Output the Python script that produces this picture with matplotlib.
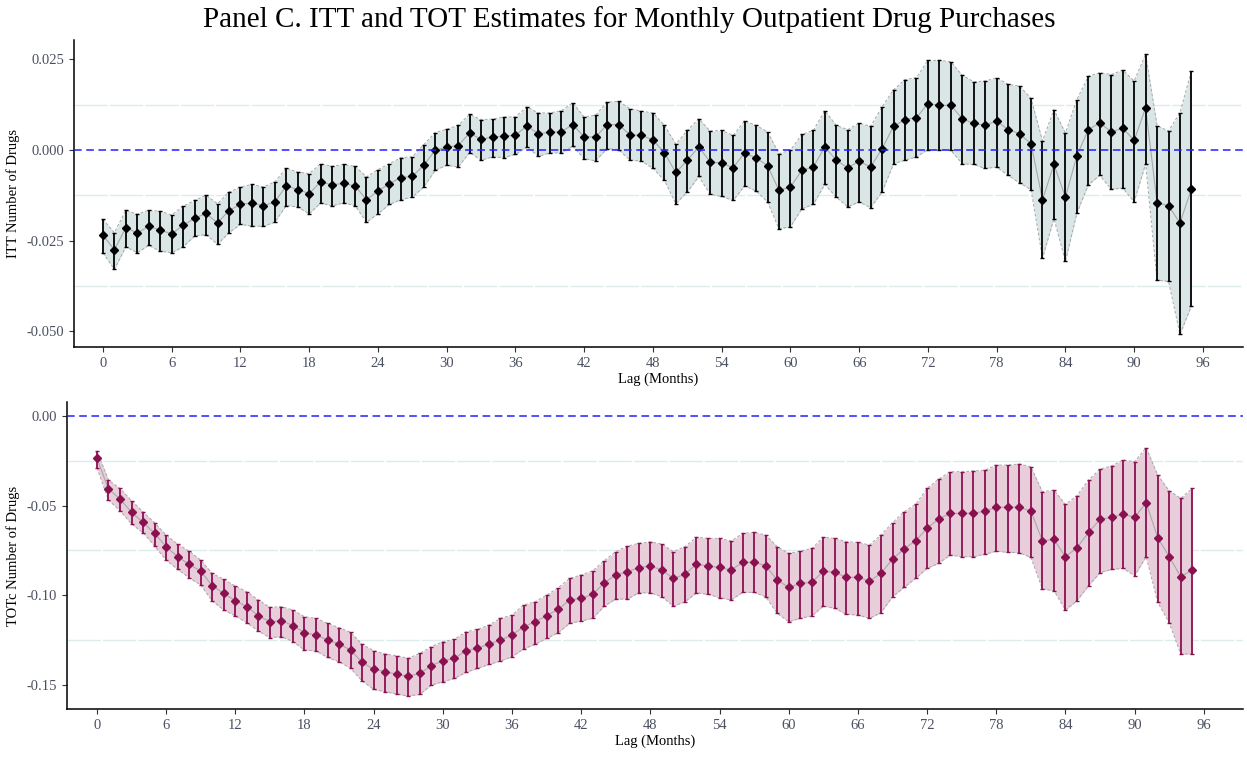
import matplotlib.pyplot as plt
import numpy as np

plt.rcParams["font.family"] = ["Liberation Serif", "DejaVu Serif"]
plt.rcParams["axes.unicode_minus"] = False

months = np.arange(96)

itt_est = [-0.0235, -0.0275, -0.0214, -0.0229, -0.0210, -0.0221, -0.0231, -0.0208, -0.0188, -0.0175,
           -0.0201, -0.0167, -0.0150, -0.0146, -0.0154, -0.0143, -0.0099, -0.0109, -0.0120, -0.0088,
           -0.0096, -0.0092, -0.0099, -0.0137, -0.0113, -0.0093, -0.0076, -0.0073, -0.0042, -0.0001,
           0.0008, 0.0012, 0.0047, 0.0029, 0.0036, 0.0038, 0.0041, 0.0066, 0.0045, 0.0049,
           0.0050, 0.0070, 0.0036, 0.0036, 0.0070, 0.0070, 0.0042, 0.0040, 0.0028, -0.0008,
           -0.0062, -0.0028, 0.0008, -0.0033, -0.0036, -0.0049, -0.0008, -0.0022, -0.0043, -0.0111,
           -0.0102, -0.0056, -0.0047, 0.0008, -0.0028, -0.0049, -0.0031, -0.0047, 0.0004, 0.0065,
           0.0084, 0.0089, 0.0128, 0.0123, 0.0123, 0.0086, 0.0073, 0.0068, 0.0080, 0.0056,
           0.0045, 0.0017, -0.0137, -0.0040, -0.0130, -0.0016, 0.0056, 0.0075, 0.0050, 0.0060,
           0.0027, 0.0116, -0.0145, -0.0154, -0.0201, -0.0107]

itt_hi = [-0.0191, -0.0228, -0.0166, -0.0177, -0.0166, -0.0169, -0.0179, -0.0155, -0.0139, -0.0125,
          -0.0148, -0.0116, -0.0102, -0.0095, -0.0102, -0.0088, -0.0050, -0.0061, -0.0065, -0.0038,
          -0.0045, -0.0040, -0.0045, -0.0074, -0.0054, -0.0038, -0.0021, -0.0019, 0.0015, 0.0048,
          0.0057, 0.0068, 0.0098, 0.0084, 0.0085, 0.0091, 0.0091, 0.0119, 0.0102, 0.0102,
          0.0108, 0.0130, 0.0091, 0.0096, 0.0132, 0.0134, 0.0114, 0.0107, 0.0102, 0.0068,
          0.0016, 0.0054, 0.0086, 0.0052, 0.0054, 0.0040, 0.0080, 0.0068, 0.0050, -0.0010,
          -0.0001, 0.0043, 0.0054, 0.0108, 0.0068, 0.0056, 0.0074, 0.0065, 0.0119, 0.0166,
          0.0194, 0.0199, 0.0247, 0.0247, 0.0243, 0.0206, 0.0188, 0.0190, 0.0199, 0.0181,
          0.0176, 0.0142, 0.0025, 0.0111, 0.0047, 0.0139, 0.0203, 0.0213, 0.0208, 0.0220,
          0.0190, 0.0264, 0.0067, 0.0052, 0.0103, 0.0218]

itt_lo = [-0.0284, -0.0329, -0.0267, -0.0283, -0.0263, -0.0279, -0.0283, -0.0267, -0.0237, -0.0233,
          -0.0260, -0.0228, -0.0205, -0.0210, -0.0210, -0.0199, -0.0153, -0.0157, -0.0176, -0.0146,
          -0.0154, -0.0146, -0.0153, -0.0199, -0.0176, -0.0150, -0.0137, -0.0130, -0.0102, -0.0056,
          -0.0042, -0.0047, -0.0007, -0.0028, -0.0019, -0.0021, -0.0012, 0.0008, -0.0017, -0.0008,
          -0.0008, 0.0010, -0.0024, -0.0030, 0.0004, 0.0001, -0.0028, -0.0031, -0.0050, -0.0084,
          -0.0148, -0.0116, -0.0073, -0.0122, -0.0128, -0.0139, -0.0099, -0.0113, -0.0143, -0.0217,
          -0.0212, -0.0162, -0.0150, -0.0095, -0.0130, -0.0157, -0.0143, -0.0159, -0.0116, -0.0038,
          -0.0028, -0.0019, 0.0001, 0.0001, -0.0001, -0.0038, -0.0040, -0.0051, -0.0047, -0.0070,
          -0.0091, -0.0109, -0.0298, -0.0189, -0.0307, -0.0174, -0.0096, -0.0070, -0.0108, -0.0105,
          -0.0143, -0.0038, -0.0359, -0.0362, -0.0508, -0.0430]

tot_est = [-0.0238, -0.0408, -0.0464, -0.0538, -0.0594, -0.0655, -0.0729, -0.0785, -0.0828, -0.0865,
           -0.0947, -0.0989, -0.1030, -0.1063, -0.1114, -0.1147, -0.1141, -0.1169, -0.1208, -0.1221,
           -0.1249, -0.1271, -0.1305, -0.1373, -0.1412, -0.1425, -0.1440, -0.1450, -0.1435, -0.1392,
           -0.1364, -0.1351, -0.1308, -0.1295, -0.1271, -0.1249, -0.1221, -0.1175, -0.1147, -0.1114,
           -0.1078, -0.1026, -0.1017, -0.0995, -0.0930, -0.0887, -0.0869, -0.0846, -0.0837, -0.0859,
           -0.0906, -0.0883, -0.0826, -0.0837, -0.0845, -0.0859, -0.0817, -0.0817, -0.0835, -0.0915,
           -0.0956, -0.0934, -0.0928, -0.0865, -0.0872, -0.0900, -0.0900, -0.0921, -0.0878, -0.0798,
           -0.0742, -0.0696, -0.0627, -0.0575, -0.0544, -0.0544, -0.0544, -0.0531, -0.0510, -0.0510,
           -0.0510, -0.0531, -0.0696, -0.0689, -0.0785, -0.0735, -0.0650, -0.0577, -0.0566, -0.0548,
           -0.0566, -0.0484, -0.0679, -0.0785, -0.0896, -0.0859]

tot_hi = [-0.0195, -0.0358, -0.0405, -0.0473, -0.0535, -0.0596, -0.0664, -0.0715, -0.0754, -0.0804,
          -0.0878, -0.0911, -0.0948, -0.0980, -0.1026, -0.1067, -0.1063, -0.1082, -0.1119, -0.1128,
          -0.1156, -0.1180, -0.1206, -0.1273, -0.1308, -0.1327, -0.1336, -0.1351, -0.1323, -0.1286,
          -0.1258, -0.1245, -0.1203, -0.1190, -0.1166, -0.1128, -0.1110, -0.1054, -0.1036, -0.0999,
          -0.0958, -0.0906, -0.0887, -0.0863, -0.0807, -0.0757, -0.0726, -0.0711, -0.0702, -0.0715,
          -0.0757, -0.0729, -0.0677, -0.0683, -0.0683, -0.0698, -0.0655, -0.0650, -0.0664, -0.0729,
          -0.0767, -0.0754, -0.0739, -0.0677, -0.0683, -0.0702, -0.0705, -0.0720, -0.0664, -0.0596,
          -0.0535, -0.0494, -0.0405, -0.0353, -0.0312, -0.0312, -0.0308, -0.0303, -0.0275, -0.0275,
          -0.0269, -0.0284, -0.0423, -0.0414, -0.0494, -0.0445, -0.0358, -0.0297, -0.0280, -0.0247,
          -0.0256, -0.0178, -0.0330, -0.0418, -0.0460, -0.0405]

tot_lo = [-0.0290, -0.0470, -0.0529, -0.0603, -0.0651, -0.0726, -0.0804, -0.0856, -0.0902, -0.0943,
          -0.1032, -0.1082, -0.1115, -0.1153, -0.1199, -0.1236, -0.1230, -0.1258, -0.1305, -0.1310,
          -0.1346, -0.1370, -0.1407, -0.1477, -0.1524, -0.1537, -0.1550, -0.1561, -0.1552, -0.1500,
          -0.1481, -0.1463, -0.1429, -0.1407, -0.1385, -0.1366, -0.1342, -0.1299, -0.1273, -0.1240,
          -0.1208, -0.1156, -0.1143, -0.1128, -0.1060, -0.1021, -0.1021, -0.0986, -0.0986, -0.1008,
          -0.1060, -0.1036, -0.0986, -0.0995, -0.1013, -0.1026, -0.0984, -0.0984, -0.1008, -0.1101,
          -0.1147, -0.1128, -0.1115, -0.1060, -0.1073, -0.1106, -0.1110, -0.1128, -0.1097, -0.1008,
          -0.0956, -0.0906, -0.0850, -0.0822, -0.0776, -0.0785, -0.0785, -0.0772, -0.0754, -0.0761,
          -0.0763, -0.0789, -0.0965, -0.0974, -0.1082, -0.1030, -0.0947, -0.0874, -0.0856, -0.0850,
          -0.0891, -0.0785, -0.1039, -0.1153, -0.1327, -0.1327]

x_ticks = np.arange(0, 97, 6)
itt_yticks = [0.025, 0.0, -0.025, -0.05]
itt_ylabels = ["0.025", "0.000", "-0.025", "-0.050"]
itt_minor = [0.0125, -0.0125, -0.0375]
tot_yticks = [0.0, -0.05, -0.10, -0.15]
tot_ylabels = ["0.00", "-0.05", "-0.10", "-0.15"]
tot_minor = [-0.025, -0.075, -0.125]

tick_color = "#4A5060"


def draw_panel(ax, est, lo, hi, fill_color, bar_color, cap_color, mk_color,
               yticks, ylabels, minor, ylim, xlim, ylabel):
    for m in minor:
        ax.axhline(m, color="#DCECEC", lw=1.0, dashes=(24, 1.5), zorder=0)
    ax.fill_between(months, lo, hi, color=fill_color, lw=0, zorder=1)
    ax.plot(months, lo, color="#A8A8A8", lw=0.7, dashes=(3, 2), zorder=2)
    ax.plot(months, hi, color="#A8A8A8", lw=0.7, dashes=(3, 2), zorder=2)
    ax.plot(months, est, color="#A8A8A8", lw=0.8, zorder=2)
    est_a = np.array(est)
    eb = ax.errorbar(months, est, yerr=[est_a - np.array(lo), np.array(hi) - est_a],
                     fmt="none", ecolor=bar_color, elinewidth=1.3, capsize=1.3,
                     capthick=1.0, zorder=3)
    for cap in eb[1]:
        cap.set_color(cap_color)
    ax.plot(months, est, "D", color=mk_color, ms=4.2, zorder=4)
    ax.axhline(0, color="#2020FF", lw=1.1, dashes=(5, 3), zorder=5)

    ax.set_xlim(*xlim)
    ax.set_ylim(*ylim)
    ax.set_xticks(x_ticks)
    ax.set_yticks(yticks)
    ax.set_yticklabels(ylabels)
    ax.tick_params(axis="both", colors="#333333", labelcolor=tick_color,
                   labelsize=10.5, length=3.5, width=0.8)
    for s in ["top", "right"]:
        ax.spines[s].set_visible(False)
    for s in ["left", "bottom"]:
        ax.spines[s].set_linewidth(1.1)
        ax.spines[s].set_color("black")
    ax.set_xlabel("Lag (Months)", fontsize=10.5, labelpad=2)
    ax.set_ylabel(ylabel, fontsize=10.5)


fig = plt.figure(figsize=(12.47, 7.57), dpi=100)
ax1 = fig.add_axes([0.0593, 0.5416, 0.9375, 0.4055])
ax2 = fig.add_axes([0.0537, 0.0634, 0.9431, 0.4055])

draw_panel(ax1, itt_est, itt_lo, itt_hi, "#DAE6E5", "black", "black", "black",
           itt_yticks, itt_ylabels, itt_minor, (-0.0543, 0.0303), (-2.53, 99.5),
           "ITT Number of Drugs")
draw_panel(ax2, tot_est, tot_lo, tot_hi, "#E8CDDA", "#8B1050", "black", "#8B1050",
           tot_yticks, tot_ylabels, tot_minor, (-0.1633, 0.0076), (-2.6, 99.4),
           "TOTc Number of Drugs")
ax1.yaxis.set_label_coords(-0.046, 0.5)
ax2.yaxis.set_label_coords(-0.040, 0.5)

fig.text(0.505, 1 - 20 / 757, "Panel C. ITT and TOT Estimates for Monthly Outpatient Drug Purchases",
         ha="center", va="center", fontsize=21)

fig.savefig("out.png", dpi=100)
